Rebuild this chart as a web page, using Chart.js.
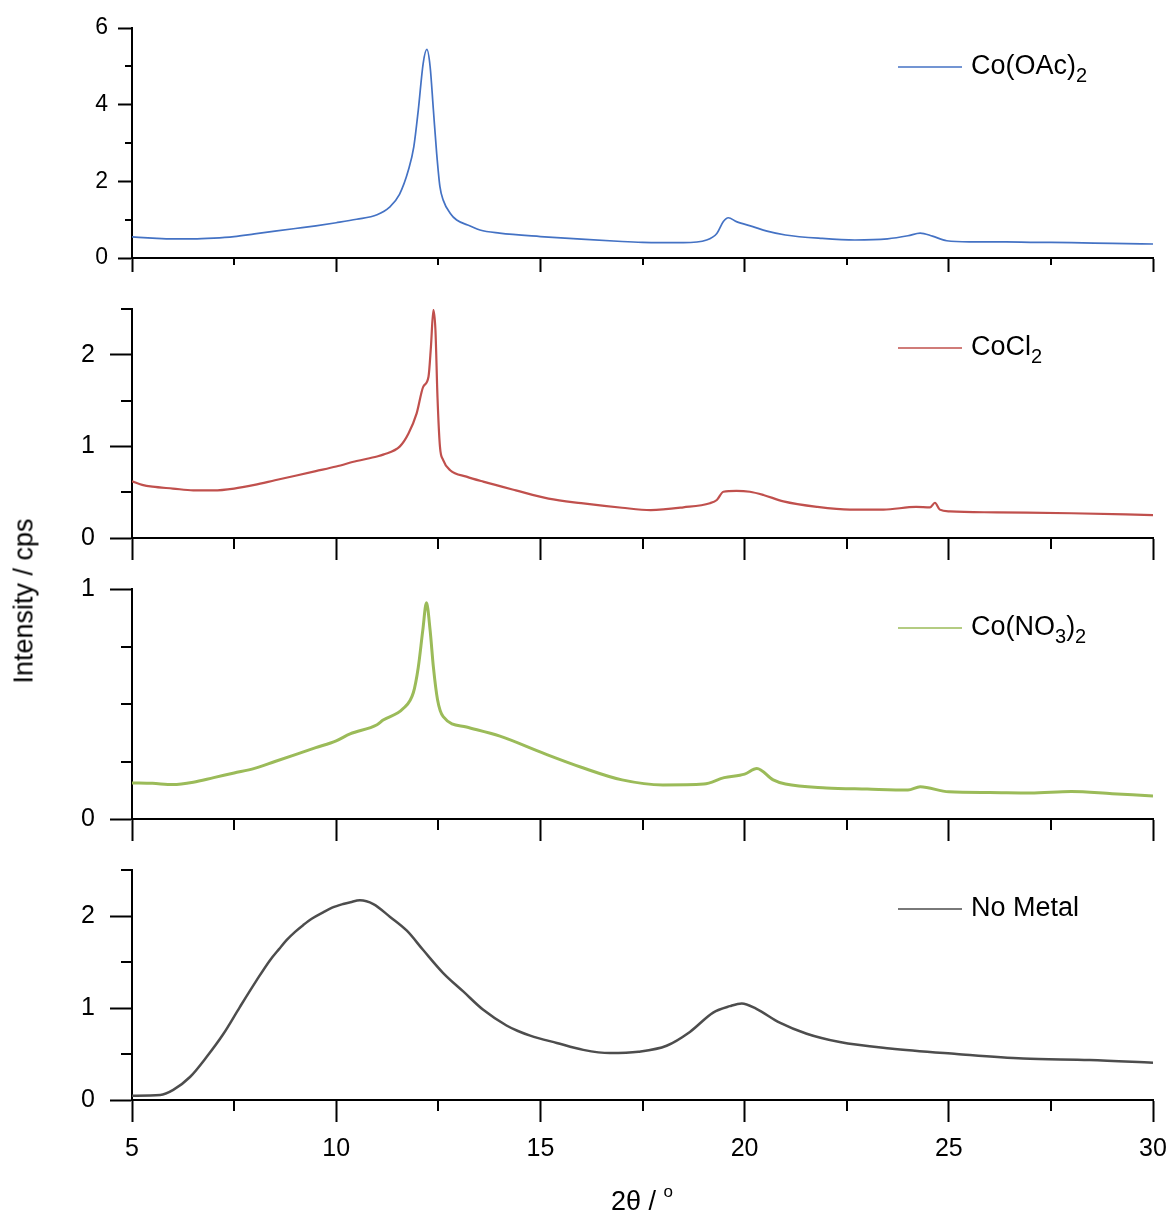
<!DOCTYPE html>
<html>
<head>
<meta charset="utf-8">
<title>XRD patterns</title>
<script src="https://cdn.jsdelivr.net/npm/chart.js@4.4.1/dist/chart.umd.min.js"></script>
<style>
  body { margin: 0; background: #fff; }
  #page { position: relative; width: 1171px; height: 1216px; overflow: hidden; font-family: "Liberation Sans", Arial, sans-serif; }
  canvas { position: absolute; left: 0; }
  #ytitle { position: absolute; left: 24px; top: 601px; transform: translate(-50%, -50%) rotate(-90deg); font-size: 27px; white-space: nowrap; }
  #xtitle { position: absolute; left: 642px; top: 1201px; transform: translate(-50%, -50%); font-size: 27px; white-space: nowrap; }
  #xtitle sup { font-size: 17px; position: relative; top: -3px; }
</style>
</head>
<body>
<div id="page">
  <canvas id="p1" width="1171" height="290" style="top:0px"></canvas>
  <canvas id="p2" width="1171" height="280" style="top:290px"></canvas>
  <canvas id="p3" width="1171" height="280" style="top:570px"></canvas>
  <canvas id="p4" width="1171" height="366" style="top:850px"></canvas>
  <div id="ytitle">Intensity / cps</div>
  <div id="xtitle">2θ / <sup>o</sup></div>
</div>
<script>
// ---- data (2θ in degrees, intensity in cps) ----
const oacAngle = [5, 5.5, 6, 6.5, 7, 7.5, 8, 8.5, 9, 9.5, 10, 10.5, 11, 11.3, 11.55, 11.77, 11.9, 12.01, 12.13, 12.22, 12.3, 12.38, 12.46, 12.54, 12.62, 12.79, 12.95, 13.28, 13.52, 14, 15, 16, 17, 17.5, 18.5, 19.07, 19.32, 19.48, 19.6, 19.8, 20.2, 20.55, 21, 21.9, 22.7, 23.5, 24, 24.3, 24.6, 24.95, 25.5, 26.4, 27, 28, 29, 30];
const oacCps   = [0.55, 0.52, 0.50, 0.50, 0.52, 0.56, 0.63, 0.70, 0.77, 0.84, 0.92, 1.01, 1.13, 1.32, 1.66, 2.30, 2.90, 3.86, 5.08, 5.44, 4.99, 3.86, 2.73, 1.86, 1.51, 1.17, 0.99, 0.835, 0.73, 0.65, 0.56, 0.49, 0.43, 0.41, 0.40, 0.47, 0.64, 0.95, 1.05, 0.95, 0.82, 0.70, 0.60, 0.51, 0.47, 0.50, 0.58, 0.65, 0.57, 0.45, 0.42, 0.42, 0.41, 0.40, 0.38, 0.365];

const clAngle = [5, 5.25, 5.5, 6, 6.5, 7, 7.5, 8, 8.5, 9, 9.5, 10, 10.5, 11, 11.15, 11.56, 11.77, 11.97, 12.13, 12.26, 12.32, 12.38, 12.43, 12.48, 12.54, 12.62, 12.79, 13.19, 13.6, 14.4, 15.2, 16, 17, 17.7, 18.5, 19.15, 19.32, 19.48, 19.8, 20.13, 20.46, 20.95, 21.77, 22.58, 23.4, 24.2, 24.54, 24.66, 24.78, 25.03, 26.17, 28, 30];
const clCps   = [0.62, 0.58, 0.56, 0.54, 0.52, 0.52, 0.54, 0.58, 0.63, 0.68, 0.73, 0.78, 0.84, 0.89, 0.91, 1.00, 1.14, 1.36, 1.65, 1.76, 2.09, 2.49, 2.27, 1.54, 1.00, 0.85, 0.74, 0.67, 0.615, 0.52, 0.43, 0.38, 0.33, 0.305, 0.335, 0.38, 0.415, 0.505, 0.515, 0.505, 0.47, 0.40, 0.34, 0.31, 0.31, 0.34, 0.335, 0.385, 0.31, 0.29, 0.28, 0.27, 0.25];

const no3Angle = [5, 5.5, 6, 6.5, 7, 7.5, 8, 8.5, 9, 9.5, 10, 10.34, 11, 11.15, 11.64, 11.89, 12.01, 12.12, 12.21, 12.3, 12.38, 12.48, 12.62, 13.19, 14.01, 15.07, 16, 17, 18, 19, 19.5, 20, 20.3, 20.7, 21, 22, 23, 24, 24.3, 25, 26, 27, 28, 29, 30];
const no3Cps   = [0.157, 0.155, 0.15, 0.16, 0.18, 0.20, 0.22, 0.25, 0.28, 0.31, 0.34, 0.37, 0.41, 0.43, 0.48, 0.55, 0.66, 0.82, 0.94, 0.82, 0.66, 0.52, 0.445, 0.40, 0.36, 0.286, 0.225, 0.17, 0.148, 0.152, 0.18, 0.195, 0.22, 0.17, 0.152, 0.135, 0.13, 0.126, 0.14, 0.118, 0.115, 0.113, 0.12, 0.11, 0.10];

const bareAngle = [5, 5.69, 6.01, 6.42, 6.83, 7.24, 7.64, 8.05, 8.38, 8.6, 8.79, 9.0, 9.19, 9.4, 9.68, 9.9, 10.17, 10.35, 10.58, 10.91, 11.32, 11.73, 12.13, 12.62, 13.11, 13.6, 14.17, 14.45, 14.75, 15.4, 16.05, 16.7, 17.4, 18.09, 18.66, 19.23, 19.64, 19.93, 20.29, 20.86, 21.52, 22.33, 23.56, 25.19, 26.82, 28.45, 30];
const bareCps   = [0.047, 0.054, 0.11, 0.25, 0.47, 0.72, 1.01, 1.30, 1.52, 1.64, 1.74, 1.83, 1.90, 1.97, 2.04, 2.09, 2.13, 2.15, 2.17, 2.13, 1.99, 1.84, 1.63, 1.38, 1.18, 0.98, 0.81, 0.75, 0.70, 0.62, 0.545, 0.51, 0.525, 0.59, 0.74, 0.95, 1.02, 1.05, 0.99, 0.84, 0.72, 0.63, 0.56, 0.50, 0.45, 0.435, 0.405];

// ---- ticks ----
const xMajor = [5, 10, 15, 20, 25, 30];
const xMinor = [7.5, 12.5, 17.5, 22.5, 27.5];
const oacMajor = [0, 2, 4, 6], oacMinor = [1, 3, 5];
const clMajor = [0, 1, 2], clMinor = [0.5, 1.5, 2.5];
const no3Major = [0, 1], no3Minor = [0.25, 0.5, 0.75];
const bareMajor = [0, 1, 2], bareMinor = [0.5, 1.5, 2.5];

const FONT = '"Liberation Sans", Arial, sans-serif';

// minor ticks and the in-panel legend entry
const panelDecor = {
  id: 'panelDecor',
  afterDraw(chart, args, opts) {
    const ctx = chart.ctx;
    const xs = chart.scales.x, ys = chart.scales.y;
    ctx.save();
    ctx.strokeStyle = '#000';
    ctx.lineWidth = 2;
    ctx.beginPath();
    opts.xMinor.forEach(v => {
      const px = Math.round(xs.getPixelForValue(v));
      ctx.moveTo(px, ys.bottom);
      ctx.lineTo(px, ys.bottom + opts.xMinorLen);
    });
    opts.yMinor.forEach(v => {
      const py = Math.round(ys.getPixelForValue(v));
      ctx.moveTo(xs.left, py);
      ctx.lineTo(xs.left - opts.yMinorLen, py);
    });
    ctx.stroke();

    const y = chart.chartArea.top + 39;
    ctx.strokeStyle = opts.color;
    ctx.lineWidth = 1.5;
    ctx.beginPath();
    ctx.moveTo(898, y);
    ctx.lineTo(962, y);
    ctx.stroke();

    let x = 971;
    ctx.fillStyle = '#000';
    ctx.textBaseline = 'middle';
    ctx.textAlign = 'left';
    opts.label.forEach(part => {
      ctx.font = (part.sub ? '20px ' : '27px ') + FONT;
      ctx.fillText(part.text, x, part.sub ? y + 9 : y);
      x += ctx.measureText(part.text).width;
    });
    ctx.restore();
  }
};

function makePanel(id, o) {
  const points = o.angle.map((a, i) => ({ x: a, y: o.cps[i] }));
  return new Chart(document.getElementById(id), {
    type: 'line',
    data: {
      datasets: [{
        data: points,
        borderColor: o.color,
        borderWidth: o.width,
        pointRadius: 0,
        cubicInterpolationMode: 'monotone',
        borderJoinStyle: 'round'
      }]
    },
    options: {
      responsive: false,
      animation: false,
      events: [],
      layout: { padding: { top: o.padTop, right: 18, bottom: 0, left: 0 } },
      scales: {
        x: {
          type: 'linear',
          min: 5,
          max: 30,
          // keep the plot edge fixed, the end labels may overhang
          afterFit: s => { s.height = o.xHeight; s.paddingLeft = 0; s.paddingRight = 0; },
          afterBuildTicks: s => { s.ticks = xMajor.map(v => ({ value: v })); },
          border: { color: '#000', width: 2 },
          grid: { drawOnChartArea: false, tickLength: o.tick, tickWidth: 2, tickColor: '#000' },
          ticks: {
            display: o.xLabels,
            color: '#000',
            padding: 12,
            maxRotation: 0,
            font: { family: FONT, size: 25 }
          }
        },
        y: {
          type: 'linear',
          min: 0,
          max: o.max,
          afterFit: s => { s.width = 132; s.paddingTop = 0; s.paddingBottom = 0; },
          afterBuildTicks: s => { s.ticks = o.major.map(v => ({ value: v })); },
          border: { color: '#000', width: 2 },
          grid: { drawOnChartArea: false, tickLength: o.tick, tickWidth: 2, tickColor: '#000' },
          ticks: {
            color: '#000',
            padding: o.yPad,
            font: { family: FONT, size: o.yFont }
          }
        }
      },
      plugins: {
        legend: { display: false },
        tooltip: { enabled: false },
        panelDecor: {
          xMinor: xMinor,
          yMinor: o.minor,
          xMinorLen: o.tick / 2,
          yMinorLen: o.tick / 2,
          color: o.color,
          label: o.label
        }
      }
    },
    plugins: [panelDecor]
  });
}

makePanel('p1', {
  angle: oacAngle, cps: oacCps, color: '#4472C4', width: 1.7,
  max: 6, major: oacMajor, minor: oacMinor,
  padTop: 28, xHeight: 32, tick: 14, yPad: 10, yFont: 23, xLabels: false,
  label: [{ text: 'Co(OAc)' }, { text: '2', sub: true }]
});
makePanel('p2', {
  angle: clAngle, cps: clCps, color: '#C0504D', width: 2.2,
  max: 2.5, major: clMajor, minor: clMinor,
  padTop: 19, xHeight: 32, tick: 22, yPad: 15, yFont: 25, xLabels: false,
  label: [{ text: 'CoCl' }, { text: '2', sub: true }]
});
makePanel('p3', {
  angle: no3Angle, cps: no3Cps, color: '#9BBB59', width: 3,
  max: 1, major: no3Major, minor: no3Minor,
  padTop: 19, xHeight: 31, tick: 22, yPad: 15, yFont: 25, xLabels: false,
  label: [{ text: 'Co(NO' }, { text: '3', sub: true }, { text: ')' }, { text: '2', sub: true }]
});
makePanel('p4', {
  angle: bareAngle, cps: bareCps, color: '#4D4D4D', width: 2.5,
  max: 2.5, major: bareMajor, minor: bareMinor,
  padTop: 20, xHeight: 116, tick: 22, yPad: 15, yFont: 25, xLabels: true,
  label: [{ text: 'No Metal' }]
});
</script>
</body>
</html>
